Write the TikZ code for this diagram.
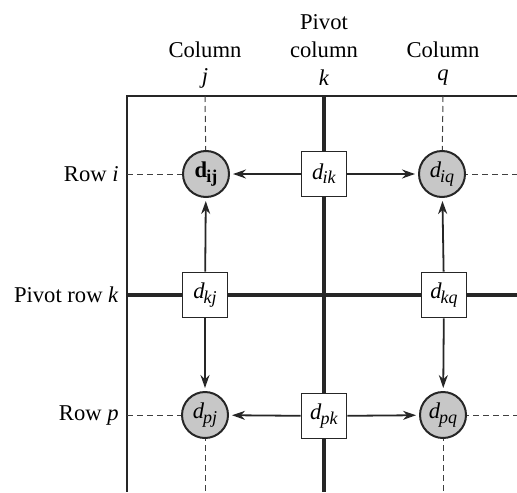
\documentclass[tikz,border=0pt]{standalone}
\usepackage{fontspec}
\setmainfont{Liberation Serif}
\usetikzlibrary{arrows.meta}
\newcommand\dsub[1]{\textit{d}\kern-0.5pt\raisebox{-0.4ex}{\fontsize{9}{9}\selectfont\textit{#1}}}
\newcommand\dbold[1]{\textbf{d}\kern-0.3pt\raisebox{-0.4ex}{\fontsize{9}{9}\selectfont\textbf{#1}}}
\begin{document}
\begin{tikzpicture}[x=0.5pt,y=-0.5pt,
  font=\fontsize{11.3}{13}\selectfont,
  frame/.style={line width=1pt, draw=black!85},
  pivotline/.style={line width=1.7pt, draw=black!85},
  dashline/.style={line width=0.5pt, draw=black!75, dash pattern=on 3pt off 2pt},
  arr/.style={line width=0.9pt, draw=black!85, shorten >=1.5pt, -{Stealth[length=6.5pt,width=4.5pt]}},
  cell/.style={circle, draw=black!85, line width=1pt, fill=black!22, minimum size=23pt, inner sep=0pt},
  pbox/.style={rectangle, draw=black!85, line width=0.9pt, fill=white, minimum size=22.5pt, inner sep=0pt},
  lab/.style={inner sep=0pt}]
\useasboundingbox (0,0) rectangle (517,492);
% coordinates
\coordinate (tl) at (127,96);
\coordinate (tr) at (517,96);
\coordinate (bl) at (127,492);
\coordinate (jt) at (205,96);  \coordinate (jb) at (205,492);
\coordinate (kt) at (324,96);  \coordinate (kb) at (324,492);
\coordinate (qt) at (443,96);  \coordinate (qb) at (443,492);
\coordinate (il) at (127,174); \coordinate (ir) at (517,174);
\coordinate (kl) at (127,295); \coordinate (kr) at (517,295);
\coordinate (pl) at (127,415); \coordinate (pr) at (517,415);
% node positions
\coordinate (Pij) at (206,174); \coordinate (Pik) at (324,174); \coordinate (Piq) at (442,174);
\coordinate (Pkj) at (205,295); \coordinate (Pkq) at (444,295);
\coordinate (Ppj) at (205,415); \coordinate (Ppk) at (324,416); \coordinate (Ppq) at (443,415);
% frame
\draw[frame] (tr) -- (tl) -- (bl);
% dashed lines
\draw[dashline] (jt) -- (Pij);
\draw[dashline] (Ppj) -- (jb);
\draw[dashline] (qt) -- (Piq);
\draw[dashline] (Ppq) -- (qb);
\draw[dashline] (il) -- (Pij);
\draw[dashline] (Piq) -- (ir);
\draw[dashline] (pl) -- (Ppj);
\draw[dashline] (Ppq) -- (pr);
% pivot lines
\draw[pivotline] (kt) -- (kb);
\draw[pivotline] (kl) -- (kr);
% nodes
\node[cell] (ij) at (Pij) {\dbold{ij}};
\node[pbox] (ik) at (Pik) {\dsub{ik}};
\node[cell] (iq) at (Piq) {\dsub{iq}};
\node[pbox] (kj) at (Pkj) {\dsub{kj}};
\node[pbox] (kq) at (Pkq) {\dsub{kq}};
\node[cell] (pj) at (Ppj) {\dsub{pj}};
\node[pbox] (pk) at (Ppk) {\dsub{pk}};
\node[cell] (pq) at (Ppq) {\dsub{pq}};
% arrows
\draw[arr] (ik) -- (ij);
\draw[arr] (ik) -- (iq);
\draw[arr] (pk) -- (pj);
\draw[arr] (pk) -- (pq);
\draw[arr] (kj) -- (ij);
\draw[arr] (kj) -- (pj);
\draw[arr] (kq) -- (iq);
\draw[arr] (kq) -- (pq);
% labels
\node[lab] (c1) at (205,50) {Column};
\node[lab] (c1v) at (205,78) {\textit{j}};
\node[lab] (c2a) at (324,22) {Pivot};
\node[lab] (c2) at (324,50) {column};
\node[lab] (c2v) at (324,78) {\textit{k}};
\node[lab] (c3) at (443,50) {Column};
\node[lab] (c3v) at (443,78) {\textit{q}};
\node[lab, anchor=east] (r1) at (119,174) {Row \textit{i}};
\node[lab, anchor=east] (r2) at (119,295) {Pivot row \textit{k}};
\node[lab, anchor=east] (r3) at (119,415) {Row \textit{p}};
\end{tikzpicture}
\end{document}
